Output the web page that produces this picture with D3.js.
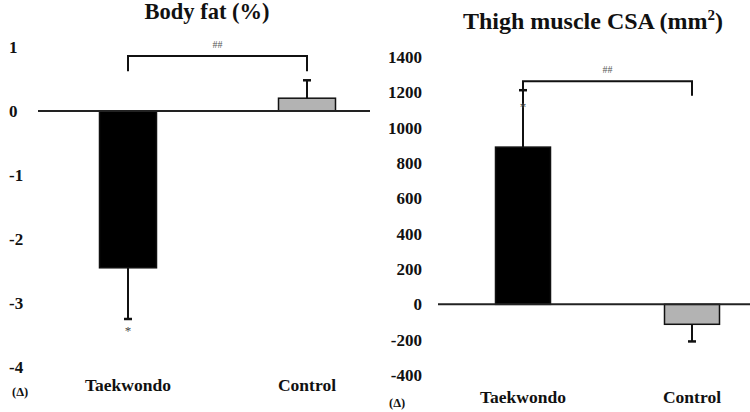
<!DOCTYPE html>
<html>
<head>
<meta charset="utf-8">
<script src="https://cdn.jsdelivr.net/npm/d3@7.9.0/dist/d3.min.js"></script>
<style>
  html, body { margin: 0; padding: 0; background: #fff; }
  svg text { font-family: "Liberation Serif", "Times New Roman", serif; font-weight: bold; }
</style>
</head>
<body>
<svg id="chart" width="750" height="412"></svg>
<script>
const groups = ['Taekwondo', 'Control'];

// body fat change (%)
const fatMean = [-2.45, 0.2];
const fatSd = [0.8, 0.28];
const fatTicks = [1, 0, -1, -2, -3, -4];

// thigh muscle CSA change (mm2)
const csaMean = [890, -113];
const csaSd = [322, 97];
const csaTicks = [1400, 1200, 1000, 800, 600, 400, 200, 0, -200, -400];

const fills = ['#000000', '#b3b3b3'];
const serif = '"Liberation Serif", "Times New Roman", serif';

const svg = d3.select('#chart');

function renderPanel(opts) {
  const { mean, sd, ticks, domain, yRange, xRange, axisX, anchor, zeroX, barW,
          bracket, title, titleX, titleY, titleSize, labelY, deltaX, deltaY, starAt } = opts;

  const y = d3.scaleLinear().domain(domain).range(yRange);
  const x = d3.scalePoint().domain(groups).range(xRange);
  const g = svg.append('g').attr('font-family', serif);

  // tick labels only, no axis line
  const ax = g.append('g')
    .attr('transform', `translate(${axisX},0)`)
    .call(d3.axisLeft(y).tickValues(ticks).tickFormat((d) => String(d)).tickSize(0).tickPadding(0))
    .attr('font-family', serif)
    .attr('font-size', 17);
  ax.select('.domain').remove();
  ax.selectAll('text')
    .attr('text-anchor', anchor)
    .attr('fill', '#111');

  const data = groups.map((k, i) => ({ k, m: mean[i], s: sd[i], fill: fills[i] }));

  // bars
  g.selectAll('rect.bar')
    .data(data)
    .join('rect')
    .attr('class', 'bar')
    .attr('x', (d) => x(d.k) - barW / 2)
    .attr('width', barW)
    .attr('y', (d) => y(Math.max(0, d.m)))
    .attr('height', (d) => Math.abs(y(d.m) - y(0)))
    .attr('fill', (d) => d.fill)
    .attr('stroke', '#111')
    .attr('stroke-width', 1.5);

  // error bars (away from zero)
  const tip = (d) => d.m + Math.sign(d.m) * d.s;
  g.selectAll('line.err')
    .data(data)
    .join('line')
    .attr('x1', (d) => x(d.k)).attr('x2', (d) => x(d.k))
    .attr('y1', (d) => y(d.m)).attr('y2', (d) => y(tip(d)))
    .attr('stroke', '#111').attr('stroke-width', 2);
  g.selectAll('line.cap')
    .data(data)
    .join('line')
    .attr('x1', (d) => x(d.k) - 4).attr('x2', (d) => x(d.k) + 4)
    .attr('y1', (d) => y(tip(d))).attr('y2', (d) => y(tip(d)))
    .attr('stroke', '#111').attr('stroke-width', 2.5);

  // zero line
  g.append('line')
    .attr('x1', zeroX[0]).attr('x2', zeroX[1])
    .attr('y1', y(0)).attr('y2', y(0))
    .attr('stroke', '#222').attr('stroke-width', 2);

  // significance bracket
  const x0 = x(groups[0]), x1 = x(groups[1]);
  g.append('path')
    .attr('d', `M${x0},${y(bracket.left)}V${y(bracket.top)}H${x1}V${y(bracket.right)}`)
    .attr('fill', 'none').attr('stroke', '#111').attr('stroke-width', 2);
  g.append('text')
    .attr('x', (x0 + x1) / 2).attr('y', y(bracket.top) - 8)
    .attr('text-anchor', 'middle')
    .attr('font-size', 10).style('font-weight', 'normal').attr('fill', '#555')
    .text('##');

  // asterisk
  g.append('text')
    .attr('x', x0).attr('y', y(starAt) + 6)
    .attr('text-anchor', 'middle')
    .attr('font-size', 13).style('font-weight', 'normal').attr('fill', '#444')
    .text('*');

  // title
  const t = g.append('text')
    .attr('x', titleX).attr('y', titleY)
    .attr('text-anchor', 'middle')
    .attr('font-size', titleSize)
    .attr('fill', '#111');
  title(t);

  // category labels
  g.selectAll('text.cat')
    .data(groups)
    .join('text')
    .attr('class', 'cat')
    .attr('x', (d) => x(d)).attr('y', labelY)
    .attr('text-anchor', 'middle')
    .attr('font-size', 17.5)
    .attr('fill', '#111')
    .text((d) => d);

  g.append('text')
    .attr('x', deltaX).attr('y', deltaY)
    .attr('font-size', 12.5)
    .attr('fill', '#111')
    .text('(Δ)');
}

renderPanel({
  mean: fatMean, sd: fatSd, ticks: fatTicks,
  domain: [-4, 1], yRange: [367, 47],
  xRange: [128, 307], axisX: 9, anchor: 'start', zeroX: [38, 370], barW: 57,
  bracket: { top: 0.86, left: 0.62, right: 0.62 },
  starAt: -3.4,
  title: (t) => t.text('Body fat (%)'), titleX: 207, titleY: 19, titleSize: 22.5,
  labelY: 391, deltaX: 12, deltaY: 396,
});

renderPanel({
  mean: csaMean, sd: csaSd, ticks: csaTicks,
  domain: [-400, 1400], yRange: [375, 57],
  xRange: [523, 692], axisX: 422, anchor: 'end', zeroX: [438, 750], barW: 55,
  bracket: { top: 1263, left: 1212, right: 1180 },
  starAt: 1130,
  title: (t) => {
    t.append('tspan').text('Thigh muscle CSA (mm');
    t.append('tspan').attr('font-size', 15).attr('dy', -9).text('2');
    t.append('tspan').attr('dy', 9).text(')');
  },
  titleX: 593, titleY: 29, titleSize: 24,
  labelY: 403, deltaX: 389, deltaY: 407,
});
</script>
</body>
</html>
